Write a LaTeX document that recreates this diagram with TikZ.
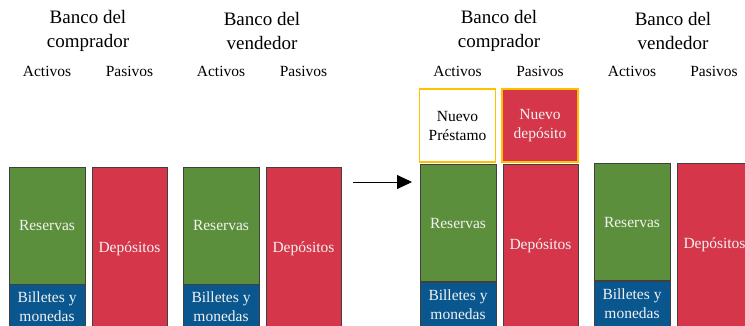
\documentclass[tikz,border=0pt]{standalone}
\usepackage{fontspec}
\setmainfont{Liberation Serif}
\usetikzlibrary{arrows.meta}
\definecolor{resgreen}{HTML}{5C8F3C}
\definecolor{depred}{HTML}{D6364A}
\definecolor{billblue}{HTML}{0A568E}
\definecolor{newyellow}{HTML}{FFC000}
\begin{document}
\begin{tikzpicture}[x=1pt,y=-1pt,
  box/.style={draw=black!75, line width=0.6pt, inner sep=0pt, text=white!95!black,
    font=\rmfamily\fontsize{15.5}{19}\selectfont, align=center},
  res/.style={box, fill=resgreen, minimum width=76pt, minimum height=117pt},
  bill/.style={box, fill=billblue, minimum width=76pt, minimum height=46pt},
  dep/.style={box, fill=depred, minimum width=75pt, minimum height=163pt},
  newbox/.style={box, draw=newyellow, line width=1.5pt, minimum width=76pt, minimum height=73pt},
  title/.style={font=\rmfamily\fontsize{19}{24}\selectfont, align=center, inner sep=0pt},
  col/.style={font=\rmfamily\fontsize{15.5}{19}\selectfont, inner sep=0pt, anchor=base},
  conn/.style={line width=0.8pt, -{Triangle[length=15pt,width=14pt]}}
]
\useasboundingbox (0,0) rectangle (745,325);
\clip (0,0) rectangle (745,325);
\fill[white] (0,0) rectangle (745,325);

% titles
\node[title] (t1) at (88,31) {Banco del\\comprador};
\node[title] (t2) at (262,31) {Banco del\\vendedor};
\node[title] (t3) at (499,31) {Banco del\\comprador};
\node[title] (t4) at (673,31) {Banco del\\vendedor};

\node[col] (a1) at (47,76) {Activos};
\node[col] (p1) at (129.5,76) {Pasivos};
\node[col] (a2) at (221,76) {Activos};
\node[col] (p2) at (303.5,76) {Pasivos};
\node[col] (a3) at (457.5,76) {Activos};
\node[col] (p3) at (540,76) {Pasivos};
\node[col] (a4) at (632,76) {Activos};
\node[col] (p4) at (714,76) {Pasivos};

% group 1
\node[res] (r1) at (47,225.5) {Reservas};
\node[bill] (b1) at (47,307) {Billetes y\\monedas};
\node[dep] (d1) at (129.5,248.5) {Depósitos};
% group 2
\node[res] (r2) at (221,225.5) {Reservas};
\node[bill] (b2) at (221,307) {Billetes y\\monedas};
\node[dep] (d2) at (303.5,248.5) {Depósitos};
% group 3
\node[newbox, fill=white, text=black] (n1) at (457.5,125.5) {Nuevo\\Préstamo};
\node[newbox, fill=depred] (n2) at (540,125.5) {Nuevo\\depósito};
\node[res] (r3) at (458,223) {Reservas};
\node[bill] (b3) at (458,305) {Billetes y\\monedas};
\node[dep] (d3) at (540.5,245.5) {Depósitos};
% group 4
\node[res] (r4) at (632,222) {Reservas};
\node[bill] (b4) at (632,304) {Billetes y\\monedas};
\node[dep] (d4) at (714.5,244.5) {Depósitos};

% arrow
\coordinate (as) at (353,182);
\coordinate (ae) at (412,182);
\draw[conn] (as) -- (ae);
\end{tikzpicture}
\end{document}
